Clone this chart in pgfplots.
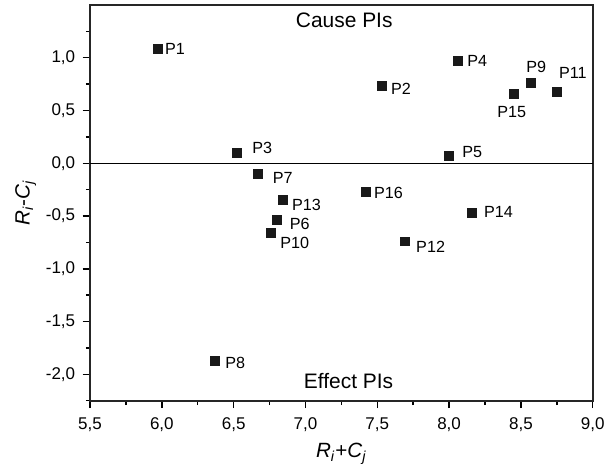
\documentclass[border=0pt]{standalone}
\usepackage{pgfplots}
\pgfplotsset{compat=1.18}
\usepackage{pgfplotstable}
\usepackage{fontspec}
\setmainfont{Liberation Sans}
\pgfplotstableread{
x y label dx dy
5.97 1.08 P1 10.6 0
7.53 0.73 P2 11.8 -1.4
6.52 0.10 P3 15.6 3
8.06 0.97 P4 11.8 0
8.57 0.76 P9 3.2 9.6
8.75 0.68 P11 9.8 11
8.45 0.66 P15 -1.2 -11.4
8.00 0.07 P5 14.1 2.4
6.67 -0.10 P7 15 -2.8
6.84 -0.35 P13 14.6 -2.8
6.80 -0.54 P6 14 -2.2
6.76 -0.66 P10 14.4 -5.8
7.42 -0.27 P16 13.8 -0.6
7.69 -0.74 P12 15.8 -3.4
8.16 -0.47 P14 16 0.8
6.37 -1.87 P8 12.3 -1.4
}\pts
\begin{document}
\begin{tikzpicture}
\begin{axis}[
  scale only axis,
  width=304.8pt, height=240pt,
  xmin=5.5, xmax=9.0, ymin=-2.25, ymax=1.5,
  xtick={5.5,6,...,9}, ytick={-2,-1.5,...,1},
  minor xtick={5.75,6.25,...,8.75},
  minor ytick={-2.25,-1.75,...,1.25},
  xtick pos=bottom, ytick pos=left,
  tick align=outside,
  major tick length=4.5pt, minor tick length=2.6pt,
  every tick/.style={black, line width=0.9pt},
  axis line style={line width=1pt, black!85},
  /pgf/number format/assume math mode=true,
  /pgf/number format/.cd, use comma, fixed, fixed zerofill, precision=1,
  /pgfplots/.cd,
  tick label style={font=\fontsize{10.3}{12}\selectfont},
  xticklabel style={yshift=-2.5pt},
  yticklabel style={xshift=-1pt},
  xlabel={\textit{R}\textsubscript{\textit{i}}+\textit{C}\textsubscript{\textit{j}}},
  ylabel={\textit{R}\textsubscript{\textit{i}}-\textit{C}\textsubscript{\textit{j}}},
  label style={font=\fontsize{12.5}{14}\selectfont},
  xlabel style={yshift=0pt},
  ylabel style={yshift=-1pt},
  clip=false,
]
\addplot[black, line width=0.9pt, forget plot] coordinates {(5.5,0) (9.0,0)};
\addplot[only marks, mark=square*, mark size=2.7pt, color=black!90,
  point meta=explicit symbolic,
  visualization depends on={\thisrow{dx}\as\mydx},
  visualization depends on={\thisrow{dy}\as\mydy},
  nodes near coords,
  nodes near coords style={anchor=center, inner sep=0pt, xshift=\mydx pt, yshift=\mydy pt, font=\fontsize{9.8}{11}\selectfont, text=black}
] table[x=x, y=y, meta=label] {\pts};
\node[font=\fontsize{12.7}{14}\selectfont] at (axis cs:7.27,1.35) {Cause PIs};
\node[font=\fontsize{12.7}{14}\selectfont] at (axis cs:7.30,-2.06) {Effect PIs};
\end{axis}
\path ([xshift=-54.6pt,yshift=-41.4pt]current axis.south west) rectangle ([xshift=6.6pt,yshift=3pt]current axis.north east);
\end{tikzpicture}
\end{document}
